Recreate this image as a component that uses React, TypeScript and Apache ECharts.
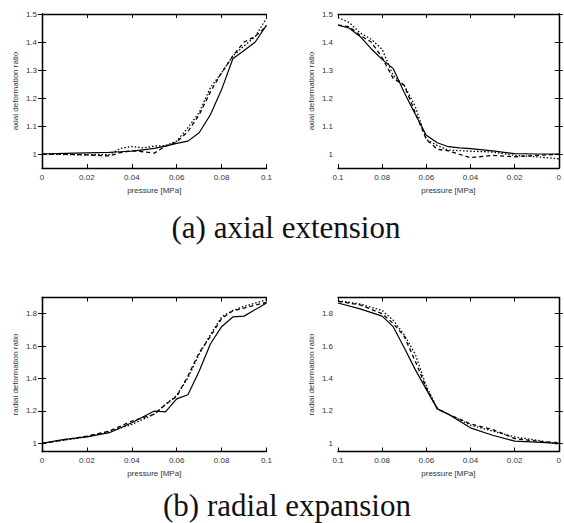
import React, { useEffect, useRef } from "react";
import * as echarts from "echarts";

// ---- data ----
const axLoadX = [0, 0.01, 0.02, 0.03, 0.035, 0.04, 0.045, 0.05, 0.055, 0.06, 0.065, 0.07, 0.075, 0.08, 0.085, 0.09, 0.095, 0.1];
const axLoadSolid = [1.0, 1.002, 1.004, 1.006, 1.008, 1.01, 1.015, 1.02, 1.028, 1.038, 1.046, 1.076, 1.14, 1.23, 1.34, 1.37, 1.4, 1.46];
const axLoadDashed = [1.0, 0.999, 0.997, 0.993, 1.005, 1.012, 1.008, 1.003, 1.028, 1.043, 1.08, 1.14, 1.222, 1.29, 1.35, 1.4, 1.42, 1.457];
const axLoadDotted = [1.0, 0.998, 0.997, 0.998, 1.02, 1.027, 1.022, 1.028, 1.03, 1.046, 1.094, 1.148, 1.237, 1.29, 1.35, 1.386, 1.42, 1.485];

const axUnloadX = [0.1, 0.095, 0.09, 0.085, 0.08, 0.075, 0.07, 0.065, 0.06, 0.055, 0.05, 0.045, 0.04, 0.03, 0.02, 0.01, 0];
const axUnloadSolid = [1.46, 1.45, 1.42, 1.376, 1.338, 1.305, 1.22, 1.142, 1.067, 1.04, 1.026, 1.022, 1.019, 1.011, 1.001, 1.0, 1.0];
const axUnloadDashed = [1.46, 1.455, 1.424, 1.4, 1.344, 1.27, 1.245, 1.148, 1.052, 1.017, 1.011, 0.999, 0.987, 0.995, 0.99, 0.995, 0.999];
const axUnloadDotted = [1.487, 1.47, 1.433, 1.41, 1.374, 1.28, 1.245, 1.17, 1.052, 1.03, 1.014, 1.012, 1.01, 1.007, 0.995, 0.99, 0.983];

const radLoadX = [0, 0.01, 0.02, 0.03, 0.04, 0.05, 0.055, 0.06, 0.065, 0.07, 0.075, 0.08, 0.085, 0.09, 0.1];
const radLoadSolid = [1.0, 1.025, 1.04, 1.066, 1.127, 1.2, 1.195, 1.275, 1.3, 1.445, 1.613, 1.72, 1.78, 1.785, 1.866];
const radLoadDashed = [1.0, 1.022, 1.045, 1.076, 1.137, 1.18, 1.24, 1.29, 1.415, 1.56, 1.66, 1.77, 1.818, 1.835, 1.87];
const radLoadDotted = [1.0, 1.02, 1.042, 1.072, 1.117, 1.18, 1.24, 1.297, 1.404, 1.55, 1.67, 1.78, 1.82, 1.845, 1.886];

const radUnloadX = [0.1, 0.09, 0.08, 0.075, 0.07, 0.065, 0.06, 0.055, 0.05, 0.04, 0.03, 0.02, 0.01, 0];
const radUnloadSolid = [1.866, 1.83, 1.785, 1.72, 1.59, 1.455, 1.333, 1.213, 1.18, 1.096, 1.05, 1.014, 1.008, 1.0];
const radUnloadDashed = [1.876, 1.855, 1.8, 1.74, 1.66, 1.507, 1.342, 1.213, 1.18, 1.12, 1.086, 1.03, 1.014, 1.004];
const radUnloadDotted = [1.88, 1.86, 1.82, 1.76, 1.67, 1.55, 1.353, 1.215, 1.18, 1.113, 1.076, 1.04, 1.02, 0.994];

const axialTicks = [1, 1.1, 1.2, 1.3, 1.4, 1.5];
const radialTicks = [1, 1.2, 1.4, 1.6, 1.8];
const pressureTicks = [0, 0.02, 0.04, 0.06, 0.08, 0.1];

const xName = "pressure [MPa]";
const axialName = "axial deformation ratio";
const radialName = "radial deformation ratio";
const captionA = "(a) axial extension";
const captionB = "(b) radial expansion";

const zip = (xs: number[], ys: number[]) => xs.map((x, i) => [x, ys[i]]);

export default function App() {
  const ref = useRef<HTMLDivElement>(null);
  useEffect(() => {
    if (!ref.current) return;
    const chart = echarts.init(ref.current, undefined, { renderer: "svg" });
    const sans = "Liberation Sans, Arial, sans-serif";
    const textColor = "#333";

    const panels = [
      { left: 42, top: 14, inverse: false, yMax: 1.5, yTicks: axialTicks, yName: axialName, series: [axLoadSolid, axLoadDashed, axLoadDotted], xs: axLoadX },
      { left: 338, top: 14, inverse: true, yMax: 1.5, yTicks: axialTicks, yName: axialName, series: [axUnloadSolid, axUnloadDashed, axUnloadDotted], xs: axUnloadX },
      { left: 42, top: 297.5, inverse: false, yMax: 1.9, yTicks: radialTicks, yName: radialName, series: [radLoadSolid, radLoadDashed, radLoadDotted], xs: radLoadX },
      { left: 338, top: 297.5, inverse: true, yMax: 1.9, yTicks: radialTicks, yName: radialName, series: [radUnloadSolid, radUnloadDashed, radUnloadDotted], xs: radUnloadX },
    ];
    const W = 224.5;
    const H = 154;
    const grids: any[] = [];
    const xAxes: any[] = [];
    const yAxes: any[] = [];
    const series: any[] = [];
    const lineAxis = { show: true, lineStyle: { color: "#000", width: 1.3 } };
    const tick = { show: true, inside: true, length: 4, lineStyle: { color: "#000", width: 1 } };
    const dashes: any[] = ["solid", [4, 3], [1.5, 2]];

    panels.forEach((p, g) => {
      grids.push({ left: p.left, top: p.top, width: W, height: H, show: false });
      xAxes.push({
        type: "value", gridIndex: g, min: 0, max: 0.1, inverse: p.inverse, position: "bottom",
        axisLine: lineAxis, axisTick: { ...tick, customValues: pressureTicks }, splitLine: { show: false },
        axisLabel: { customValues: pressureTicks, color: textColor, fontSize: 8, fontFamily: sans, margin: 5, formatter: (v: number) => String(+v.toFixed(2)) },
        name: xName, nameLocation: "middle", nameGap: 18, nameTextStyle: { color: textColor, fontSize: 8, fontFamily: sans },
      });
      xAxes.push({
        type: "value", gridIndex: g, min: 0, max: 0.1, inverse: p.inverse, position: "top",
        axisLine: lineAxis, axisTick: { ...tick, customValues: pressureTicks }, axisLabel: { show: false }, splitLine: { show: false },
      });
      yAxes.push({
        type: "value", gridIndex: g, min: 0.95, max: p.yMax, position: "left",
        axisLine: lineAxis, axisTick: { ...tick, customValues: p.yTicks }, splitLine: { show: false },
        axisLabel: { customValues: p.yTicks, color: textColor, fontSize: 8, fontFamily: sans, margin: 5, formatter: (v: number) => String(+v.toFixed(1)) },
        name: p.yName, nameLocation: "middle", nameGap: 23, nameRotate: 90, nameTextStyle: { color: textColor, fontSize: 8, fontFamily: sans },
      });
      yAxes.push({
        type: "value", gridIndex: g, min: 0.95, max: p.yMax, position: "right",
        axisLine: lineAxis, axisTick: { ...tick, customValues: p.yTicks }, axisLabel: { show: false }, splitLine: { show: false },
      });
      p.series.forEach((ys, k) => {
        series.push({
          type: "line", xAxisIndex: 2 * g, yAxisIndex: 2 * g, data: zip(p.xs, ys),
          showSymbol: false, symbol: "none", silent: true,
          lineStyle: { color: "#000", width: k === 0 ? 1.2 : 1.3, type: dashes[k] },
        });
      });
    });

    const serif = "Liberation Serif, Times New Roman, serif";
    chart.setOption({
      animation: false,
      backgroundColor: "#fff",
      grid: grids,
      xAxis: xAxes,
      yAxis: yAxes,
      series,
      graphic: [
        { type: "text", x: 286, y: 227, style: { text: captionA, font: `31px ${serif}`, fill: "#111", textAlign: "center", textVerticalAlign: "middle" } },
        { type: "text", x: 287, y: 505, style: { text: captionB, font: `31px ${serif}`, fill: "#111", textAlign: "center", textVerticalAlign: "middle" } },
      ],
    });
    return () => chart.dispose();
  }, []);
  return <div ref={ref} style={{ position: "fixed", left: 0, top: 0, width: 564, height: 523 }} />;
}
